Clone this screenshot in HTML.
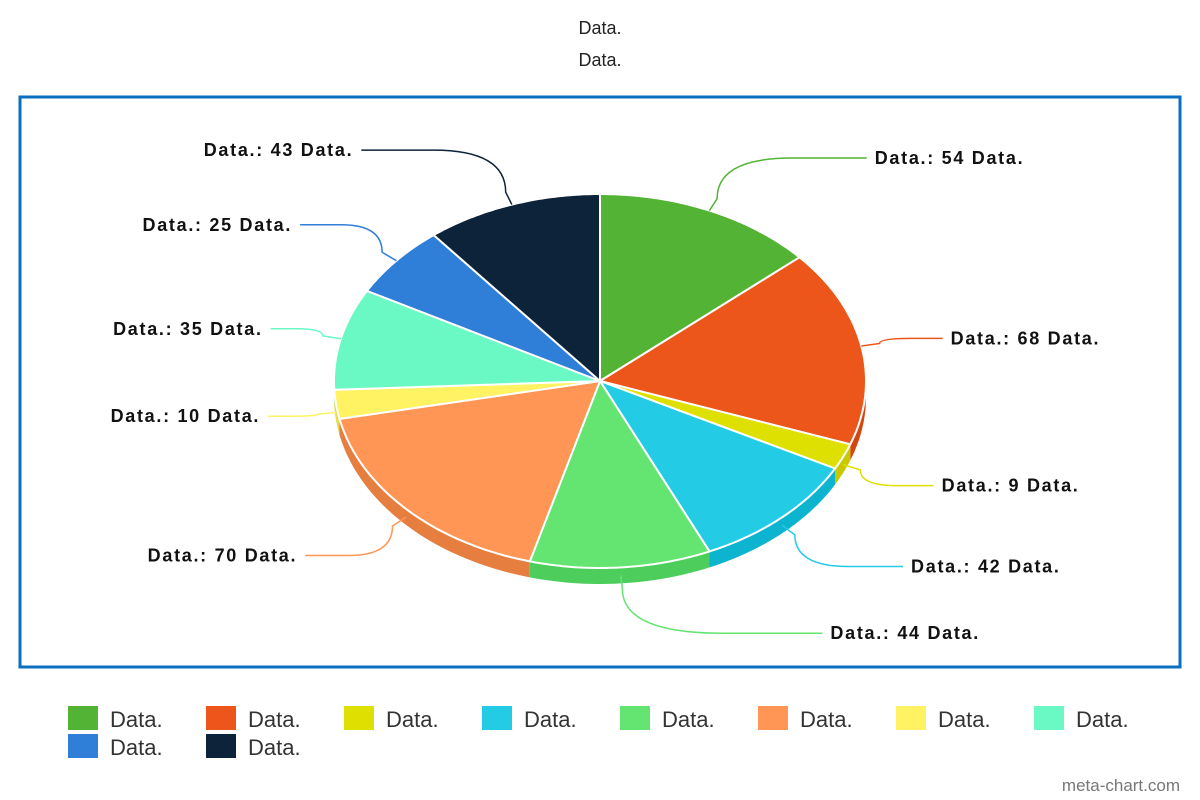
<!DOCTYPE html>
<html><head><meta charset="utf-8"><style>
body{margin:0;background:#fff;width:1200px;height:800px;overflow:hidden;font-family:"Liberation Sans",Arial,sans-serif}
svg{position:absolute;left:0;top:0}
</style></head><body>
<svg id="chart" width="1200" height="800" viewBox="0 0 1200 800">
<text x="600" y="34" text-anchor="middle" font-size="18" fill="#222">Data.</text>
<text x="600" y="66" text-anchor="middle" font-size="18" fill="#222">Data.</text>
<rect x="20" y="97" width="1160" height="570" fill="none" stroke="#0a6fbf" stroke-width="3"/>
<g id="sides"></g><g id="tops"></g><g id="labels"></g><g id="legend"></g>
<text x="1180" y="791" text-anchor="end" font-size="17" fill="#777">meta-chart.com</text>
</svg>
<script>
const categories=["Data.","Data.","Data.","Data.","Data.","Data.","Data.","Data.","Data.","Data."];
const values=[54,68,9,42,44,70,10,35,25,43];
const colors=["#52b335","#ec561b","#dde000","#24cbe5","#64e572","#ff9655","#fff263","#6af9c4","#2f7ed8","#0d233a"];
const sideColors=["#3e9a24","#d44510","#c7c800","#0db4d0","#4dcd5c","#e67e40","#e6d94c","#52e0ab","#1f68bf","#05131f"];
const NS="http://www.w3.org/2000/svg";
const cx=600,cy=381,rx=266,ry=187,depth=16;
function pt(a,dy=0,s=1){const r=a*Math.PI/180;return [cx+rx*s*Math.sin(r),cy-ry*s*Math.cos(r)+dy];}
function el(t,attrs,parent){const e=document.createElementNS(NS,t);for(const k in attrs)e.setAttribute(k,attrs[k]);parent.appendChild(e);return e;}
const total=values.reduce((a,b)=>a+b,0);
let cum=0;
const sides=document.getElementById('sides'),tops=document.getElementById('tops'),labels=document.getElementById('labels'),legend=document.getElementById('legend');
values.forEach((v,i)=>{
  const a0=cum/total*360,a1=(cum+v)/total*360;cum+=v;
  const s0=Math.max(a0,90),s1=Math.min(a1,270);
  if(s1>s0){
    let d='';const n=30;
    for(let k=0;k<=n;k++){const p=pt(s0+(s1-s0)*k/n);d+=(k?'L':'M')+p[0].toFixed(1)+','+p[1].toFixed(1);}
    for(let k=n;k>=0;k--){const p=pt(s0+(s1-s0)*k/n,depth);d+='L'+p[0].toFixed(1)+','+p[1].toFixed(1);}
    const sd=el('path',{d:d+'Z',fill:sideColors[i]},sides);
    
    
  }
  let d='M'+cx+','+cy;const n=60;
  for(let k=0;k<=n;k++){const p=pt(a0+(a1-a0)*k/n);d+='L'+p[0].toFixed(1)+','+p[1].toFixed(1);}
  const tp=el('path',{d:d+'Z',fill:colors[i],stroke:'#fff','stroke-width':2,'stroke-linejoin':'round'},tops);
  
  
  const m=(a0+a1)/2,r=m*Math.PI/180,sn=Math.sin(r),cs=Math.cos(r),right=sn>=0;
  const front=(m>90&&m<270);
  const p0=pt(m,front?depth/2:0);
  const p1=pt(m,front?depth/2:0,1.07);
  const ly=cy-(ry+62)*cs+4;
  const lx=right?cx+0.5*rx*Math.abs(sn)+220:cx-(0.53*rx*Math.abs(sn)+200);
  const endx=lx+(right?-8:8);
  const ld=el('path',{d:`M${p0[0]},${p0[1]}L${p1[0]},${p1[1]}Q${p1[0]},${ly} ${(p1[0]+endx)/2},${ly}L${endx},${ly}`,fill:'none',stroke:colors[i],'stroke-width':1.5},labels);
  
  
  const t=el('text',{x:lx,y:ly+6,'text-anchor':right?'start':'end','font-size':18,'font-weight':'bold','letter-spacing':'1.7',fill:'#111'},labels);
  t.textContent=categories[i]+': '+v+' Data.';
  
  
  const col=i%8,row=Math.floor(i/8);
  const lxg=68+col*138,lyg=706+row*28;
  const sq=el('rect',{x:lxg,y:lyg,width:30,height:24,fill:colors[i]},legend);
  
  
  const lt=el('text',{x:lxg+42,y:lyg+21,'font-size':22,fill:'#333'},legend);
  lt.textContent=categories[i];
  
  
});
</script>
</body></html>
